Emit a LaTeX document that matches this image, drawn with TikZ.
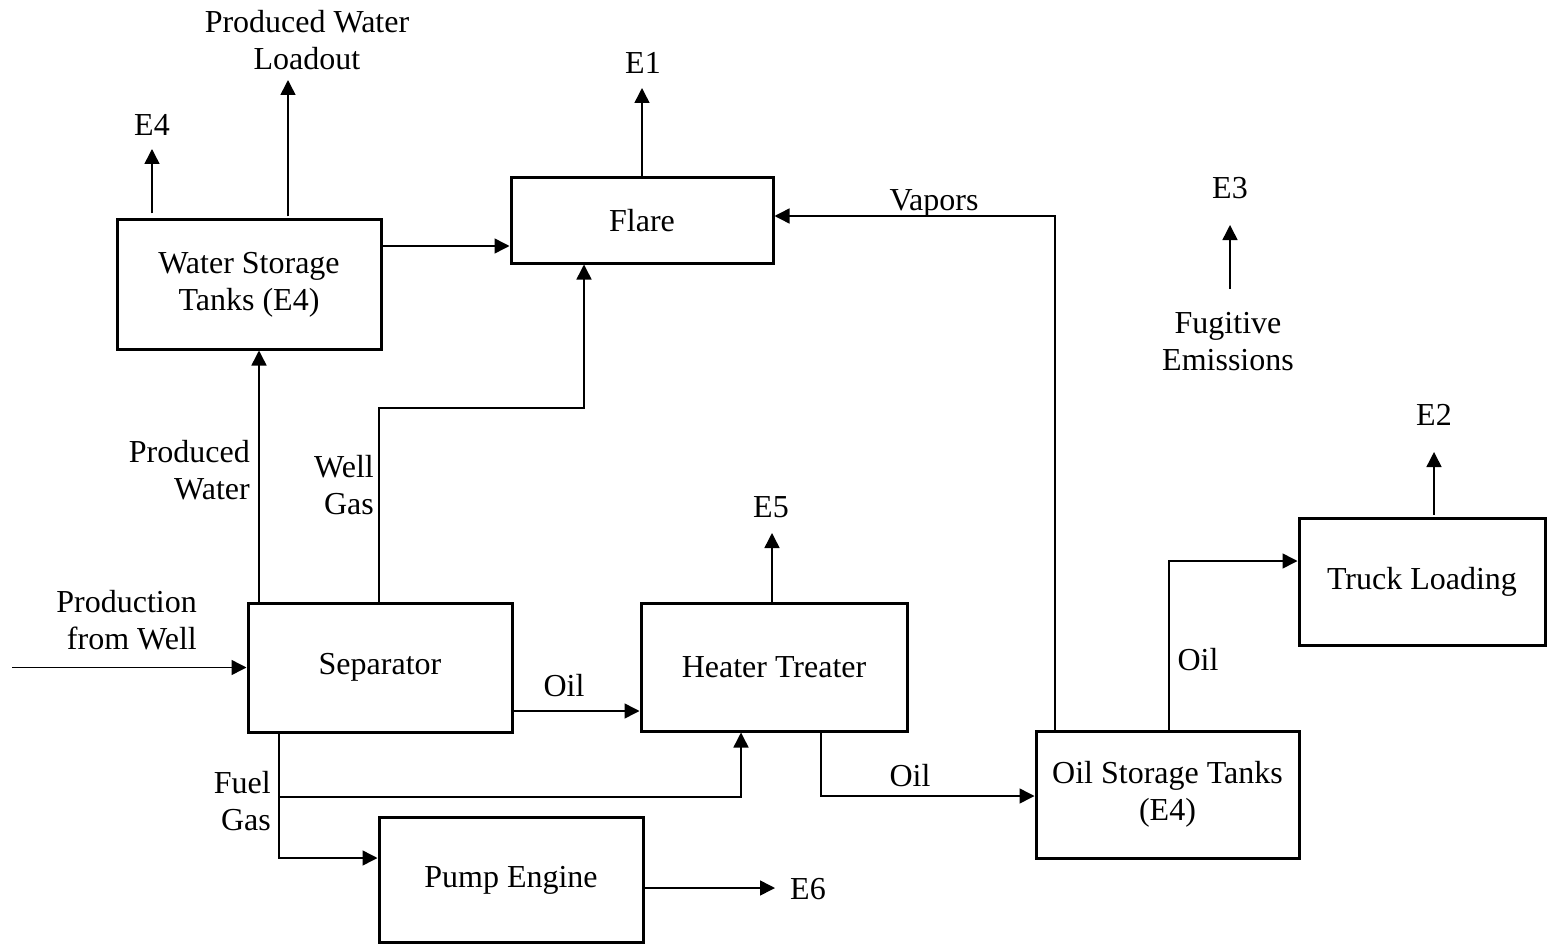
\documentclass[tikz,border=0pt]{standalone}
\usepackage{fontspec}
\setmainfont{Liberation Serif}
\usetikzlibrary{arrows.meta,calc}
\begin{document}
\begin{tikzpicture}[x=1pt,y=-1pt,
  every node/.style={font=\fontsize{32}{37}\selectfont},
  box/.style={draw, line width=3pt, align=center, inner sep=0pt},
  lbl/.style={align=center, inner sep=1pt},
  flow/.style={line width=1.5pt, -{Triangle[length=15pt,width=15pt]}}]
\useasboundingbox (0,0) rectangle (1547,944);
% boxes
\node[box, minimum width=264, minimum height=129] (wst) at (249,284.5) {Water Storage\\Tanks (E4)};
\node[box, minimum width=262, minimum height=85] (flare) at (642,220.5) {Flare};
\node[box, minimum width=264, minimum height=129] (sep) at (380,667.5) {Separator};
\node[box, minimum width=266, minimum height=128] (ht) at (774,667) {Heater Treater};
\node[box, minimum width=264, minimum height=125] (pump) at (511,880) {Pump Engine};
\node[box, minimum width=263, minimum height=127] (ost) at (1167.5,794.5) {Oil Storage Tanks\\(E4)};
\node[box, minimum width=246, minimum height=127] (truck) at (1422,581.5) {Truck Loading};
% labels
\node[lbl] (pwl) at (307,40) {Produced Water\\Loadout};
\node[lbl] (e4a) at (152,125) {E4};
\node[lbl] (e1) at (643,63) {E1};
\node[lbl] (vap) at (934,203) {Vapors};
\node[lbl] (e3) at (1230,188) {E3};
\node[lbl] (fug) at (1228,342) {Fugitive\\Emissions};
\node[lbl] (e2) at (1434,415) {E2};
\node[lbl, anchor=east, align=right] (pwat) at (251,470) {Produced\\Water};
\node[lbl, anchor=east, align=right] (wgl) at (375,485) {Well\\Gas};
\node[lbl, anchor=east, align=right] (pfw) at (198,620) {Production\\from Well};
\node[lbl] (e5) at (771,507) {E5};
\node[lbl] (oil1) at (564,686) {Oil};
\node[lbl, anchor=east, align=right] (fgl) at (272,801) {Fuel\\Gas};
\node[lbl] (oil2) at (910,776) {Oil};
\node[lbl] (oil3) at (1198,660) {Oil};
\node[lbl] (e6) at (808,889) {E6};
% free ends
\coordinate (e4tip) at (152,149);
\coordinate (pwltip) at (288,80);
\coordinate (e1tip) at (642,88);
\coordinate (e3tip) at (1230,225);
\coordinate (e3tail) at (1230,289);
\coordinate (e5tip) at (772,533);
\coordinate (e2tip) at (1434,452);
\coordinate (e6tip) at (775,888);
\coordinate (pin) at (12,667.5);
% connectors
\draw[flow, shorten <=5pt] (wst.north -| e4tip) -- (e4tip);
\draw[flow, shorten <=2pt] (wst.north -| pwltip) -- (pwltip);
\coordinate (wf) at ($(wst.east)+(0,-38.5)$);
\draw[flow] (wf) -- (wf -| flare.west);
\draw[flow] (flare.north -| e1tip) -- (e1tip);
\draw[flow] ($(ost.north west)+(20.5,0)$) |- ($(flare.east)+(0,-4.5)$);
\draw[flow] (e3tail) -- (e3tip);
\coordinate (pw) at ($(sep.north west)+(12.5,0)$);
\draw[flow] (pw) -- (pw |- wst.south);
\coordinate (wg) at ($(sep.north)+(-1,0)$);
\draw[flow] (wg) -- ($(wg)+(0,-193.5)$) -| ($(flare.south)+(-58,0)$);
\coordinate (so) at ($(sep.east)+(0,43.5)$);
\draw[flow] (so) -- (so -| ht.west);
\draw[flow] (ht.north -| e5tip) -- (e5tip);
\coordinate (fg) at ($(sep.south west)+(32.5,0)$);
\draw[flow] (fg) |- ($(pump.west)+(0,-22)$);
\draw[flow] ($(fg)+(0,63.5)$) -| ($(ht.south)+(-33,0)$);
\draw[flow] ($(ht.south)+(47,0)$) |- ($(ost.west)+(0,1.5)$);
\draw[flow] ($(ost.north)+(1.5,0)$) |- ($(truck.west)+(0,-20.5)$);
\draw[flow, shorten <=2pt] (truck.north -| e2tip) -- (e2tip);
\draw[flow] (pump.east |- e6tip) -- (e6tip);
\draw[flow] (pin) -- (sep.west);
\end{tikzpicture}
\end{document}
